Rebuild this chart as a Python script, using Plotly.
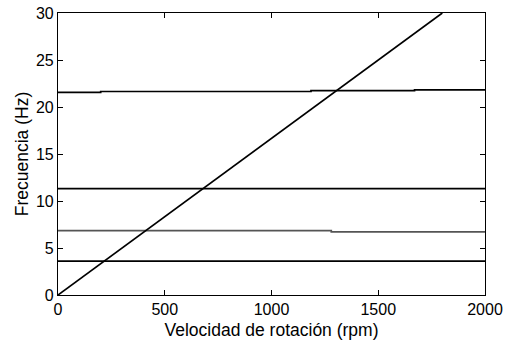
import plotly.graph_objects as go

# Rotor speed range and natural frequencies (Campbell diagram)
speed_1x = [0, 1800]          # rpm
freq_1x = [0, 30]             # Hz, 1X excitation line

mode1_speed = [0, 2000]
mode1_freq = [3.6, 3.6]

mode2_speed = [0, 1280, 2000]
mode2_freq = [6.85, 6.72, 6.72]

mode3_speed = [0, 2000]
mode3_freq = [11.32, 11.32]

mode4_speed = [0, 200, 1185, 1670, 2000]
mode4_freq = [21.55, 21.65, 21.75, 21.83, 21.83]

x_ticks = [0, 500, 1000, 1500, 2000]
y_ticks = [0, 5, 10, 15, 20, 25, 30]

FONT = "Liberation Sans, Arial, sans-serif"

fig = go.Figure()
fig.add_trace(go.Scatter(x=mode1_speed, y=mode1_freq, mode="lines",
                         line=dict(color="black", width=1.7)))
fig.add_trace(go.Scatter(x=mode2_speed, y=mode2_freq, mode="lines", line_shape="hv",
                         line=dict(color="#555555", width=1.7)))
fig.add_trace(go.Scatter(x=mode3_speed, y=mode3_freq, mode="lines",
                         line=dict(color="black", width=1.7)))
fig.add_trace(go.Scatter(x=mode4_speed, y=mode4_freq, mode="lines", line_shape="hv",
                         line=dict(color="black", width=1.7)))
fig.add_trace(go.Scatter(x=speed_1x, y=freq_1x, mode="lines",
                         line=dict(color="black", width=1.7)))

axis_common = dict(
    showline=True, linecolor="black", linewidth=1.2, mirror="ticks",
    ticks="inside", ticklen=5, tickcolor="black", tickwidth=1,
    showgrid=False, zeroline=False, automargin=False,
    tickfont=dict(family=FONT, size=16, color="black"),
)

fig.update_layout(
    width=509, height=342,
    margin=dict(l=58, r=24, t=13, b=47),
    paper_bgcolor="white", plot_bgcolor="white",
    showlegend=False,
    font=dict(family=FONT, color="black"),
    xaxis=dict(range=[0, 2000], tickvals=x_ticks,
               title=dict(text="Velocidad de rotación (rpm)",
                          font=dict(family=FONT, size=17.5), standoff=6),
               **axis_common),
    yaxis=dict(range=[0, 30], tickvals=y_ticks,
               title=dict(text="Frecuencia (Hz)",
                          font=dict(family=FONT, size=17.5), standoff=2),
               **axis_common),
)

fig.write_html("out.html")
